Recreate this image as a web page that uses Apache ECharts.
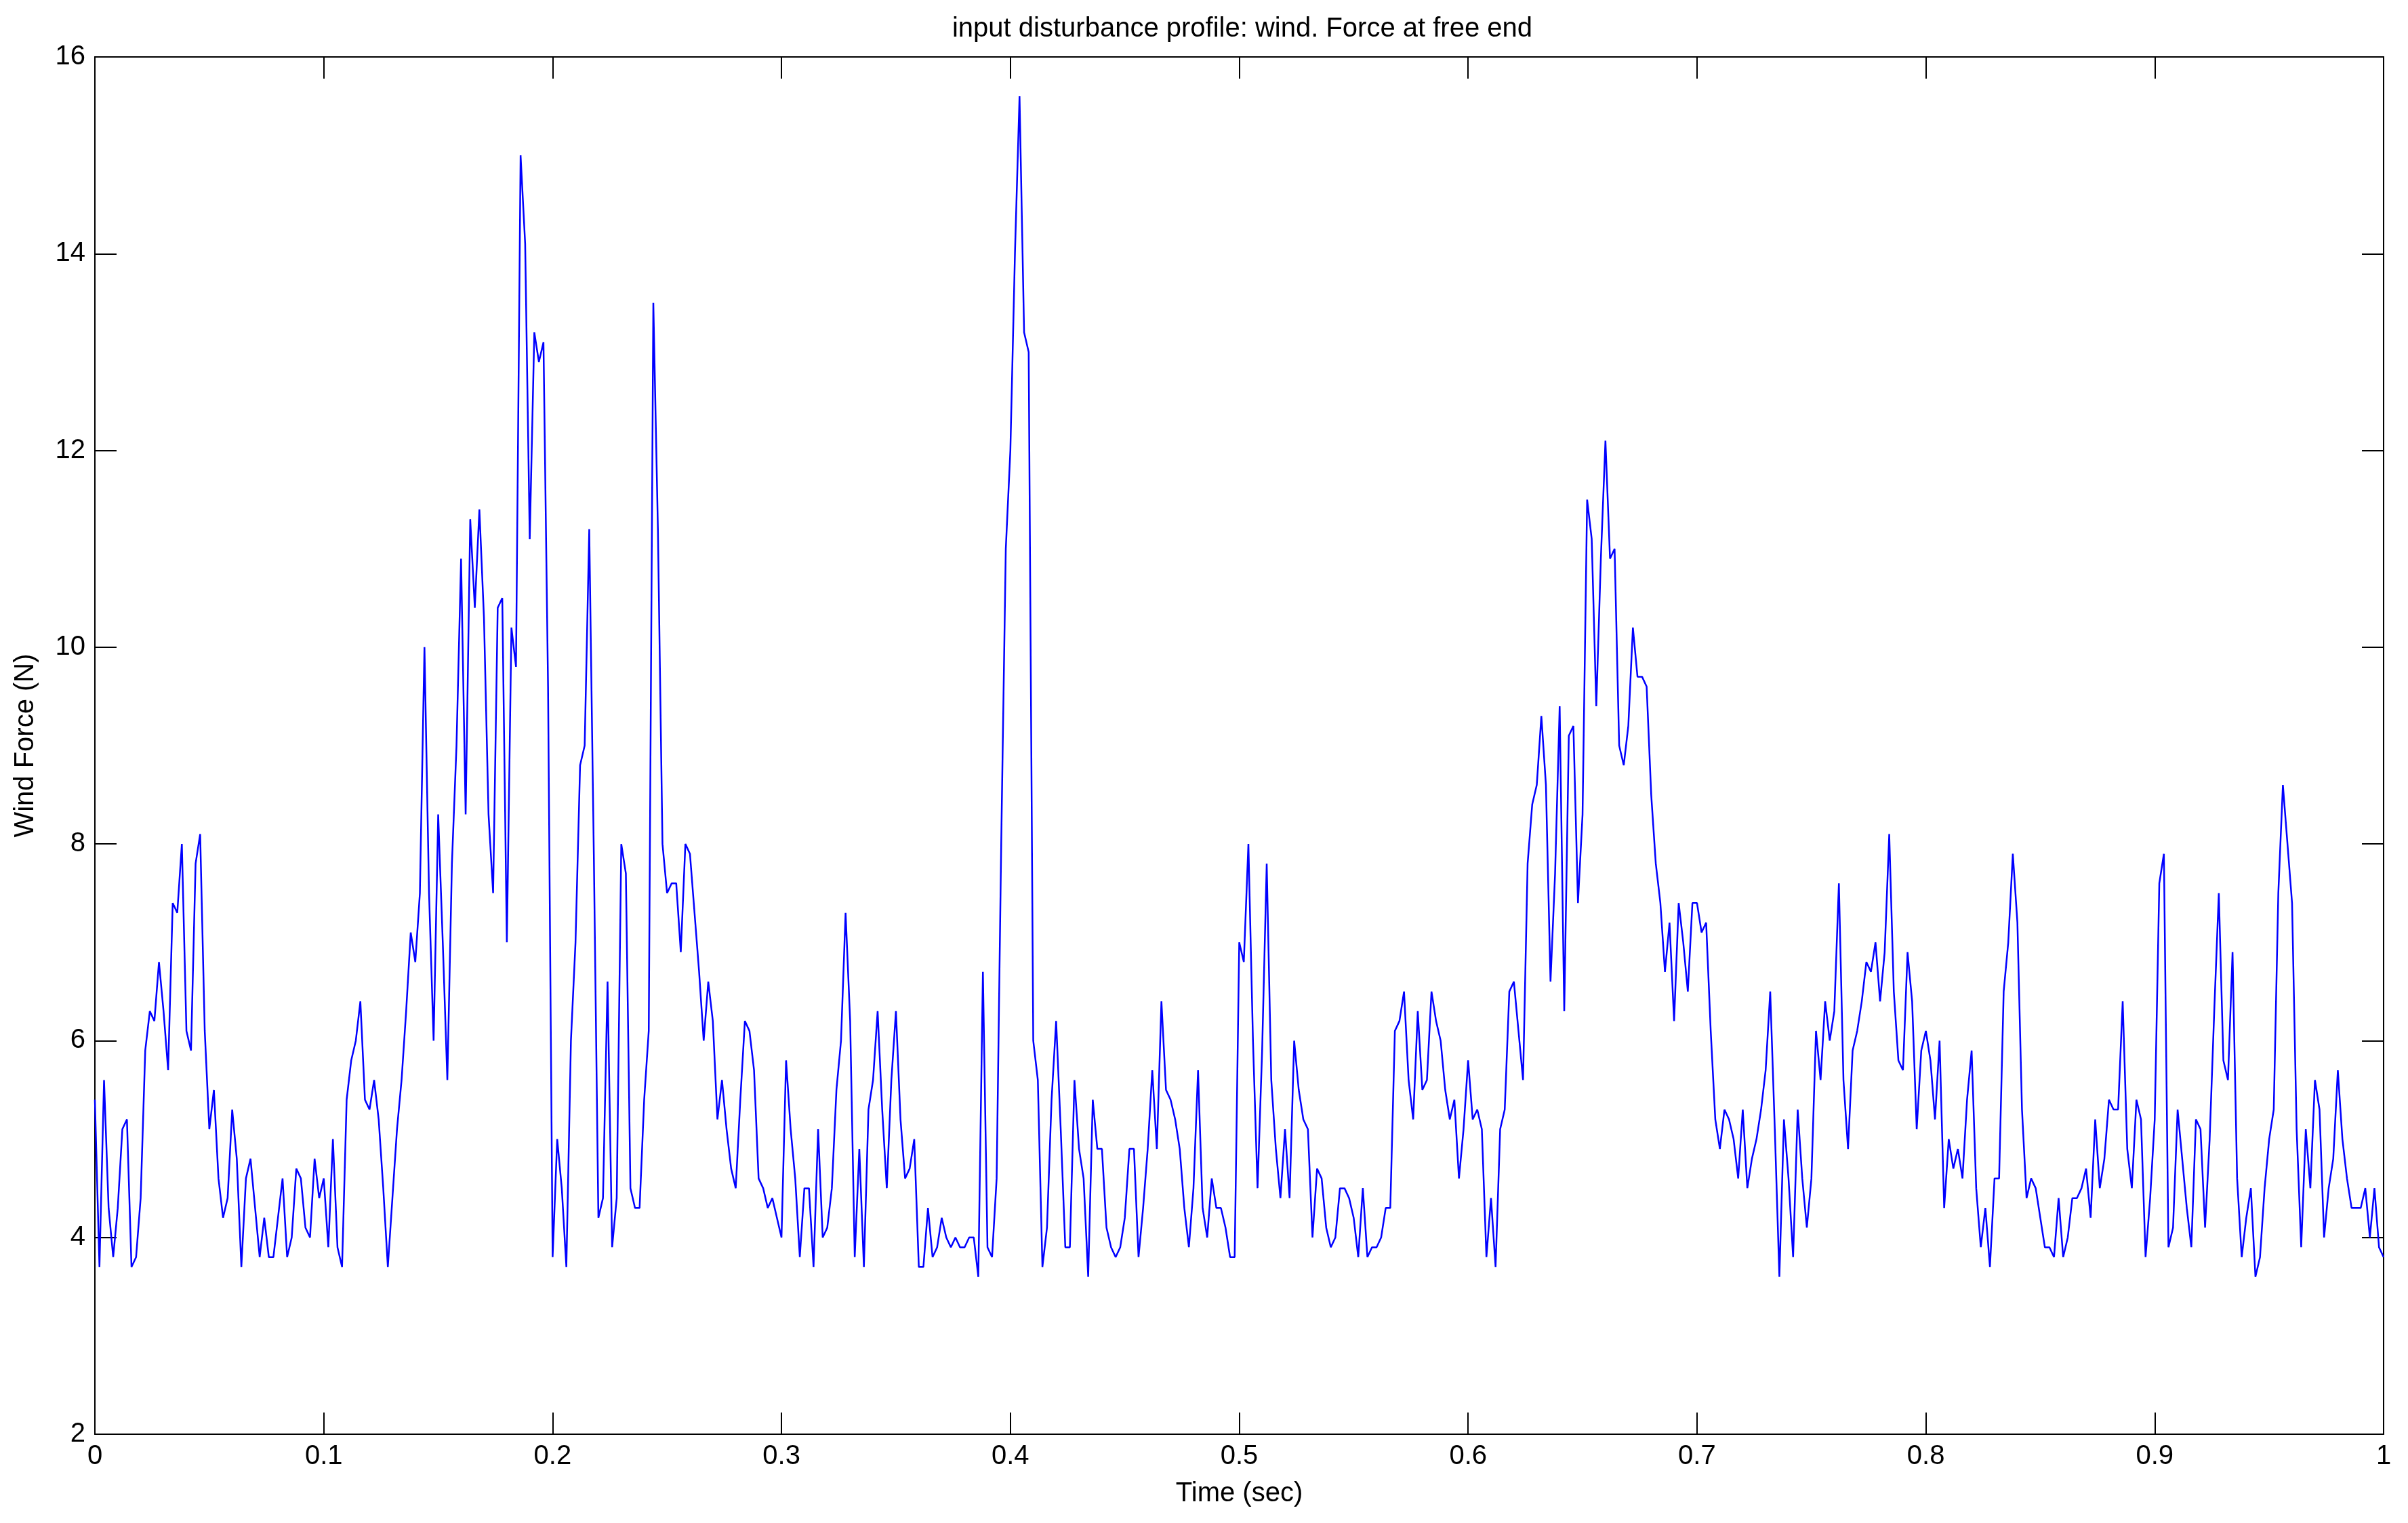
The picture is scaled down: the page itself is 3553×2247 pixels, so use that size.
<!DOCTYPE html>
<html>
<head>
<meta charset="utf-8">
<script src="https://cdn.jsdelivr.net/npm/echarts@6/dist/echarts.min.js"></script>
<style>
html,body{margin:0;padding:0;background:#fff;}
#chart{width:3553px;height:2247px;}
</style>
</head>
<body>
<div id="chart"></div>
<script>
// Wind force samples, every 0.002 s, one array per 0.1 s segment
const seg0 = [5.4,3.7,5.6,4.3,3.8,4.3,5.1,5.2,3.7,3.8, 4.4,5.9,6.3,6.2,6.8,6.3,5.7,7.4,7.3,8.0, 6.1,5.9,7.8,8.1,6.1,5.1,5.5,4.6,4.2,4.4, 5.3,4.8,3.7,4.6,4.8,4.3,3.8,4.2,3.8,3.8, 4.2,4.6,3.8,4.0,4.7,4.6,4.1,4.0,4.8,4.4];
const seg1 = [4.6,3.9,5.0,3.9,3.7,5.4,5.8,6.0,6.4,5.4, 5.3,5.6,5.2,4.5,3.7,4.4,5.1,5.6,6.3,7.1, 6.8,7.5,10.0,7.5,6.0,8.3,7.0,5.6,7.8,9.0, 10.9,8.3,11.3,10.4,11.4,10.3,8.3,7.5,10.4,10.5, 7.0,10.2,9.8,15.0,14.1,11.1,13.2,12.9,13.1,9.6];
const seg2 = [3.8,5.0,4.5,3.7,6.0,7.0,8.8,9.0,11.2,7.9, 4.2,4.4,6.6,3.9,4.4,8.0,7.7,4.5,4.3,4.3, 5.4,6.1,13.5,11.2,8.0,7.5,7.6,7.6,6.9,8.0, 7.9,7.3,6.7,6.0,6.6,6.2,5.2,5.6,5.1,4.7, 4.5,5.4,6.2,6.1,5.7,4.6,4.5,4.3,4.4,4.2];
const seg3 = [4.0,5.8,5.1,4.6,3.8,4.5,4.5,3.7,5.1,4.0, 4.1,4.5,5.5,6.0,7.3,6.2,3.8,4.9,3.7,5.3, 5.6,6.3,5.3,4.5,5.6,6.3,5.2,4.6,4.7,5.0, 3.7,3.7,4.3,3.8,3.9,4.2,4.0,3.9,4.0,3.9, 3.9,4.0,4.0,3.6,6.7,3.9,3.8,4.6,8.0,11.0];
const seg4 = [12.0,14.0,15.6,13.2,13.0,6.0,5.6,3.7,4.1,5.4, 6.2,5.1,3.9,3.9,5.6,4.9,4.6,3.6,5.4,4.9, 4.9,4.1,3.9,3.8,3.9,4.2,4.9,4.9,3.8,4.3, 4.9,5.7,4.9,6.4,5.5,5.4,5.2,4.9,4.3,3.9, 4.5,5.7,4.3,4.0,4.6,4.3,4.3,4.1,3.8,3.8];
const seg5 = [7.0,6.8,8.0,6.0,4.5,5.9,7.8,5.6,4.9,4.4, 5.1,4.4,6.0,5.5,5.2,5.1,4.0,4.7,4.6,4.1, 3.9,4.0,4.5,4.5,4.4,4.2,3.8,4.5,3.8,3.9, 3.9,4.0,4.3,4.3,6.1,6.2,6.5,5.6,5.2,6.3, 5.5,5.6,6.5,6.2,6.0,5.5,5.2,5.4,4.6,5.1];
const seg6 = [5.8,5.2,5.3,5.1,3.8,4.4,3.7,5.1,5.3,6.5, 6.6,6.1,5.6,7.8,8.4,8.6,9.3,8.6,6.6,7.7, 9.4,6.3,9.1,9.2,7.4,8.3,11.5,11.1,9.4,10.9, 12.1,10.9,11.0,9.0,8.8,9.2,10.2,9.7,9.7,9.6, 8.5,7.8,7.4,6.7,7.2,6.2,7.4,7.0,6.5,7.4];
const seg7 = [7.4,7.1,7.2,6.1,5.2,4.9,5.3,5.2,5.0,4.6, 5.3,4.5,4.8,5.0,5.3,5.7,6.5,5.1,3.6,5.2, 4.6,3.8,5.3,4.6,4.1,4.6,6.1,5.6,6.4,6.0, 6.3,7.6,5.6,4.9,5.9,6.1,6.4,6.8,6.7,7.0, 6.4,6.9,8.1,6.5,5.8,5.7,6.9,6.4,5.1,5.9];
const seg8 = [6.1,5.8,5.2,6.0,4.3,5.0,4.7,4.9,4.6,5.4, 5.9,4.5,3.9,4.3,3.7,4.6,4.6,6.5,7.0,7.9, 7.2,5.3,4.4,4.6,4.5,4.2,3.9,3.9,3.8,4.4, 3.8,4.0,4.4,4.4,4.5,4.7,4.2,5.2,4.5,4.8, 5.4,5.3,5.3,6.4,4.9,4.5,5.4,5.2,3.8,4.4];
const seg9 = [5.2,7.6,7.9,3.9,4.1,5.3,4.8,4.3,3.9,5.2, 5.1,4.1,5.0,6.3,7.5,5.8,5.6,6.9,4.6,3.8, 4.2,4.5,3.6,3.8,4.5,5.0,5.3,7.5,8.6,8.0, 7.4,5.1,3.9,5.1,4.5,5.6,5.3,4.0,4.5,4.8, 5.7,5.0,4.6,4.3,4.3,4.3,4.5,4.0,4.5,3.9];
const lastValue = [3.8];

const sampleStepMs = 2;
const xTicks = ['0','0.1','0.2','0.3','0.4','0.5','0.6','0.7','0.8','0.9','1'];
const yTicks = ['2','4','6','8','10','12','14','16'];

const values = [].concat(seg0, seg1, seg2, seg3, seg4, seg5, seg6, seg7, seg8, seg9, lastValue);
const data = values.map((v, i) => [Math.round(i * sampleStepMs) / 1000, v]);

const FONT = "'Liberation Sans Narrow', 'Liberation Sans', Arial, sans-serif";
const FS = 40;
const black = '#000';

const chart = echarts.init(document.getElementById('chart'), null, {renderer: 'canvas'});

const tickCommon = {show: true, inside: true, length: 32, lineStyle: {color: black, width: 2}};
const lineCommon = {show: true, onZero: false, lineStyle: {color: black, width: 2}};

chart.setOption({
  animation: false,
  backgroundColor: '#fff',
  title: {
    text: 'input disturbance profile: wind. Force at free end',
    left: 1828,
    textAlign: 'center',
    top: 18,
    textStyle: {fontFamily: FONT, fontSize: FS, fontWeight: 'normal', color: black}
  },
  grid: {left: 140, right: 36, top: 84, bottom: 131, containLabel: false},
  xAxis: [{
    type: 'value', position: 'bottom', min: 0, max: 1, interval: 0.1,
    axisLine: lineCommon, axisTick: tickCommon, splitLine: {show: false},
    axisLabel: {show: true, margin: 13, fontFamily: FONT, fontSize: FS, color: black,
      formatter: (v) => xTicks[Math.round(v * 10)]},
    name: 'Time (sec)', nameLocation: 'middle', nameGap: 68,
    nameTextStyle: {fontFamily: FONT, fontSize: FS, color: black}
  }, {
    type: 'value', position: 'top', min: 0, max: 1, interval: 0.1,
    axisLine: lineCommon, axisTick: tickCommon, splitLine: {show: false},
    axisLabel: {show: false}
  }],
  yAxis: [{
    type: 'value', position: 'left', min: 2, max: 16, interval: 2,
    axisLine: lineCommon, axisTick: tickCommon, splitLine: {show: false},
    axisLabel: {show: true, margin: 14, fontFamily: FONT, fontSize: FS, color: black,
      formatter: (v) => yTicks[Math.round((v - 2) / 2)]},
    name: 'Wind Force (N)', nameLocation: 'middle', nameGap: 82,
    nameTextStyle: {fontFamily: FONT, fontSize: FS, color: black}
  }, {
    type: 'value', position: 'right', min: 2, max: 16, interval: 2,
    axisLine: lineCommon, axisTick: tickCommon, splitLine: {show: false},
    axisLabel: {show: false}
  }],
  series: [{
    type: 'line',
    data: data,
    xAxisIndex: 0, yAxisIndex: 0,
    showSymbol: false,
    symbol: 'none',
    sampling: null,
    lineStyle: {color: '#0000ff', width: 2.5},
    itemStyle: {color: '#0000ff'}
  }]
});
</script>
</body>
</html>
